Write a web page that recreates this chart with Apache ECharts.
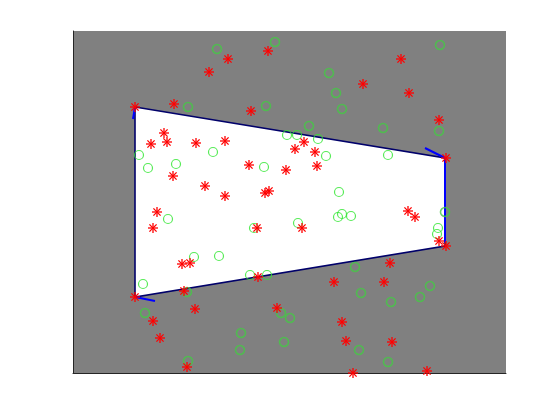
<!DOCTYPE html>
<html>
<head>
<meta charset="utf-8">
<script src="https://cdn.jsdelivr.net/npm/echarts@6/dist/echarts.min.js"></script>
<style>html,body{margin:0;padding:0;background:#fff;}#c{width:560px;height:420px;}</style>
</head>
<body>
<div id="c"></div>
<script>
// Axis ranges (x to the right, y downward)
const xRange = [73, 506];
const yRange = [31, 373];

// Region polygon vertices
const polyX = [135, 445, 445, 135];
const polyY = [107, 158, 246, 297];

// Blue direction segments [x1, y1, x2, y2]
const segX1 = [135, 445, 445, 135];
const segY1 = [107, 158, 158, 297];
const segX2 = [133, 425, 445, 155];
const segY2 = [119, 148, 242, 301];

// Red asterisk points
const starX = [228,209,268,401,363,409,251,174,135,439,446,
  164,151,167,196,225,304,295,315,317,286,249,
  173,205,225,265,269,
  157,153,257,302,408,415,439,446,
  182,190,390,135,184,258,334,384,
  195,153,160,277,342,346,392,187,353,427];
const starY = [59,72,51,59,84,93,111,104,107,120,158,
  133,144,142,143,141,142,149,152,166,170,165,
  176,186,196,193,191,
  212,228,228,228,211,217,241,246,
  264,263,263,297,291,277,282,282,
  309,321,338,308,322,341,342,367,373,371];

// Green circle points
const circX = [217,275,440,329,336,342,266,188,383,439,309,287,297,318,326,388,
  213,139,148,176,264,339,
  168,254,298,338,342,351,445,438,437,
  194,219,143,187,250,267,355,430,420,361,391,
  145,281,290,241,240,284,359,388,188];
const circY = [49,42,45,73,93,109,106,107,128,131,126,135,135,139,156,155,
  152,155,168,164,167,192,
  219,228,223,217,214,216,212,228,234,
  257,256,284,292,275,275,267,286,297,293,302,
  313,313,318,333,350,342,350,362,361];

function inside(x, y) {
  let c = false;
  for (let i = 0, j = polyX.length - 1; i < polyX.length; j = i++) {
    if (((polyY[i] > y) !== (polyY[j] > y)) &&
        (x < (polyX[j] - polyX[i]) * (y - polyY[i]) / (polyY[j] - polyY[i]) + polyX[i])) c = !c;
  }
  return c;
}

const circIn = [], circOut = [];
circX.forEach((x, i) => { (inside(x, circY[i]) ? circIn : circOut).push([x, circY[i]]); });

const chart = echarts.init(document.getElementById('c'), null, {renderer: 'canvas'});
chart.setOption({
  animation: false,
  backgroundColor: '#ffffff',
  grid: {left: 73, right: 54, top: 31, bottom: 47, show: true, backgroundColor: '#808080', borderWidth: 0},
  xAxis: {type: 'value', min: xRange[0], max: xRange[1],
    axisLine: {show: true, onZero: false, lineStyle: {color: '#262626', width: 1}},
    axisTick: {show: false}, axisLabel: {show: false}, splitLine: {show: false}},
  yAxis: {type: 'value', min: yRange[0], max: yRange[1], inverse: true,
    axisLine: {show: true, onZero: false, lineStyle: {color: '#262626', width: 1}},
    axisTick: {show: false}, axisLabel: {show: false}, splitLine: {show: false}},
  series: [
    {
      type: 'custom', z: 1, clip: false,
      data: polyX.map((x, i) => [x, polyY[i]]),
      renderItem: function (params, api) {
        if (params.dataIndex !== 0) return null;
        const pts = polyX.map((x, i) => api.coord([x, polyY[i]]));
        return {type: 'polygon', shape: {points: pts},
          style: {fill: '#ffffff', stroke: '#00006a', lineWidth: 1.6}};
      }
    },
    {
      type: 'custom', z: 2, clip: false,
      data: segX1.map((x, i) => [x, segY1[i], segX2[i], segY2[i]]),
      renderItem: function (params, api) {
        const a = api.coord([api.value(0), api.value(1)]);
        const b = api.coord([api.value(2), api.value(3)]);
        return {type: 'line', shape: {x1: a[0], y1: a[1], x2: b[0], y2: b[1]},
          style: {stroke: '#0000ff', lineWidth: 2}};
      }
    },
    {
      type: 'scatter', z: 3, clip: false, symbol: 'circle', symbolSize: 9,
      data: circOut,
      itemStyle: {color: 'rgba(0,0,0,0)', borderColor: '#45c845', borderWidth: 1.6}
    },
    {
      type: 'scatter', z: 3, clip: false, symbol: 'circle', symbolSize: 9,
      data: circIn,
      itemStyle: {color: 'rgba(0,0,0,0)', borderColor: '#2ee62e', borderWidth: 1.2}
    },
    {
      type: 'custom', z: 4, clip: false,
      data: starX.map((x, i) => [x, starY[i]]),
      renderItem: function (params, api) {
        const p = api.coord([api.value(0), api.value(1)]);
        const r = 5, d = 3.6;
        const st = {stroke: '#ff0000', lineWidth: 1.3};
        return {type: 'group', children: [
          {type: 'line', shape: {x1: p[0] - r, y1: p[1], x2: p[0] + r, y2: p[1]}, style: st},
          {type: 'line', shape: {x1: p[0], y1: p[1] - r, x2: p[0], y2: p[1] + r}, style: st},
          {type: 'line', shape: {x1: p[0] - d, y1: p[1] - d, x2: p[0] + d, y2: p[1] + d}, style: st},
          {type: 'line', shape: {x1: p[0] - d, y1: p[1] + d, x2: p[0] + d, y2: p[1] - d}, style: st}
        ]};
      }
    }
  ]
});
</script>
</body>
</html>
